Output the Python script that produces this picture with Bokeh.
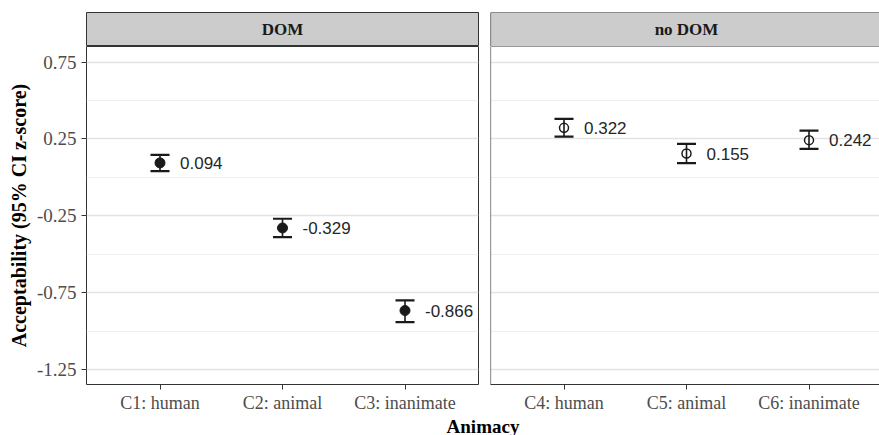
from bokeh.plotting import figure
from bokeh.models import ColumnDataSource, Whisker, TeeHead, FixedTicker, Range1d, Label, Span
from bokeh.layouts import column, row
from bokeh.core.properties import value
from bokeh.embed import file_html
from bokeh.resources import INLINE

# ---------------- data ----------------
panels = ["DOM", "no DOM"]
cats_dom = ["C1: human", "C2: animal", "C3: inanimate"]
cats_nodom = ["C4: human", "C5: animal", "C6: inanimate"]
mean_dom = [0.094, -0.329, -0.866]
lower_dom = [0.040, -0.389, -0.941]
upper_dom = [0.146, -0.269, -0.800]
mean_nodom = [0.322, 0.155, 0.242]
lower_nodom = [0.265, 0.092, 0.185]
upper_nodom = [0.380, 0.218, 0.304]
y_ticks = [-1.25, -0.75, -0.25, 0.25, 0.75]
y_tick_labels = ["-1.25", "-0.75", "-0.25", "0.25", "0.75"]
y_minor = [-1.0, -0.5, 0.0, 0.5]
x_title = "Animacy"
y_title = "Acceptability (95% CI z-score)"

# ---------------- style ----------------
SERIF = "Liberation Serif"
SANS = "Liberation Sans"
BORDER = "#333333"
INK = "#1A1A1A"
STRIP = "#CCCCCC"
PX_PER_CAT = 122.5
Y0, Y1 = -1.347, 0.851
LEFT_B = 86
GAP = 6
FW_L = 392
FW_R = 389
FH = 338
BOTTOM_B = 30


def xr(fw):
    return Range1d(0.4, 0.4 + fw / PX_PER_CAT)


def make_strip(text, fw, left, right, outline):
    s = figure(frame_width=fw, frame_height=34, x_range=xr(fw), y_range=Range1d(0, 1),
               x_axis_location=None, y_axis_location=None,
               min_border_left=left, min_border_right=right,
               min_border_top=12, min_border_bottom=0,
               background_fill_color=STRIP, border_fill_color="white",
               output_backend="svg", toolbar_location=None)
    s.grid.visible = False
    s.outline_line_color = BORDER if outline else None
    if not outline:
        for loc in (0, 1):
            s.add_layout(Span(location=loc, dimension="width", line_color=BORDER, line_width=1.2))
        s.add_layout(Span(location=0.4, dimension="height", line_color=BORDER, line_width=1.2))
    s.add_layout(Label(x=2, y=0.5, text=text, text_align="center", text_baseline="middle",
                       text_font=SERIF, text_font_style="bold", text_font_size="17px",
                       text_color=INK))
    return s


def make_panel(cats, mean, lower, upper, filled, fw, left, right, show_y):
    p = figure(frame_width=fw, frame_height=FH, x_range=xr(fw), y_range=Range1d(Y0, Y1),
               y_axis_location="left" if show_y else None,
               min_border_left=left, min_border_right=right,
               min_border_top=0, min_border_bottom=BOTTOM_B,
               background_fill_color="white", border_fill_color="white",
               output_backend="svg", toolbar_location=None)
    xs = list(range(1, len(cats) + 1))
    src = ColumnDataSource(dict(x=xs, mean=mean, lower=lower, upper=upper,
                                label=[f"{v:.3f}" for v in mean]))
    # grid
    p.xgrid.visible = False
    p.ygrid.ticker = FixedTicker(ticks=y_ticks, minor_ticks=y_minor)
    p.ygrid.grid_line_color = "#E3E3E3"
    p.ygrid.grid_line_width = 1.4
    p.ygrid.minor_grid_line_color = "#EEEEEE"
    p.ygrid.minor_grid_line_width = 1
    # x axis
    p.xaxis.ticker = FixedTicker(ticks=xs)
    p.xaxis.major_label_overrides = {x: c for x, c in zip(xs, cats)}
    p.xaxis.major_label_text_font = SERIF
    p.xaxis.major_label_text_font_size = "18px"
    p.xaxis.major_label_text_color = "#4D4D4D"
    p.xaxis.major_label_standoff = 3
    p.xaxis.major_tick_out = 5
    p.xaxis.major_tick_in = 0
    p.xaxis.major_tick_line_color = BORDER
    p.xaxis.minor_tick_line_color = None
    if show_y:
        p.outline_line_color = BORDER
        p.xaxis.axis_line_color = None
        p.yaxis.ticker = FixedTicker(ticks=y_ticks, minor_ticks=y_minor)
        p.yaxis.major_label_overrides = {t: l for t, l in zip(y_ticks, y_tick_labels)}
        p.yaxis.major_label_text_font = SERIF
        p.yaxis.major_label_text_font_size = "19px"
        p.yaxis.major_label_text_color = "#4D4D4D"
        p.yaxis.major_label_standoff = 5
        p.yaxis.major_tick_out = 5
        p.yaxis.major_tick_in = 0
        p.yaxis.major_tick_line_color = BORDER
        p.yaxis.minor_tick_line_color = None
        p.yaxis.axis_line_color = None
        p.yaxis.axis_label = y_title
        p.yaxis.axis_label_text_font = SERIF
        p.yaxis.axis_label_text_font_style = "bold"
        p.yaxis.axis_label_text_font_size = "20px"
        p.yaxis.axis_label_text_color = "black"
        p.yaxis.axis_label_standoff = 4
    else:
        p.outline_line_color = None
        p.xaxis.axis_line_color = BORDER
        p.xaxis.axis_line_width = 1.2
        p.add_layout(Span(location=Y1, dimension="width", line_color=BORDER, line_width=1.2))
        p.add_layout(Span(location=0.4, dimension="height", line_color=BORDER, line_width=1.2))
    # error bars
    w = Whisker(source=src, base="x", upper="upper", lower="lower", dimension="height",
                line_color=INK, line_width=1.6,
                upper_head=TeeHead(size=19, line_color=INK, line_width=2.2),
                lower_head=TeeHead(size=19, line_color=INK, line_width=2.2))
    p.add_layout(w)
    # points
    if filled:
        p.scatter("x", "mean", source=src, size=10, fill_color=INK, line_color=INK)
    else:
        p.scatter("x", "mean", source=src, size=9, fill_color=None, line_color=INK,
                  line_width=1.5)
    # value labels
    p.text("x", "mean", text="label", source=src, x_offset=20, text_align="left",
           text_baseline="middle", text_font=value(SANS), text_font_size="17px",
           text_color="#262626")
    return p


s1 = make_strip(panels[0], FW_L, LEFT_B, GAP, True)
s2 = make_strip(panels[1], FW_R, GAP, 0, False)
p1 = make_panel(cats_dom, mean_dom, lower_dom, upper_dom, True, FW_L, LEFT_B, GAP, True)
p2 = make_panel(cats_nodom, mean_nodom, lower_nodom, upper_nodom, False, FW_R, GAP, 0, False)

t = figure(frame_width=FW_L + 2 * GAP + FW_R, frame_height=435 - 46 - FH - BOTTOM_B,
           x_range=Range1d(0, 1), y_range=Range1d(0, 1),
           x_axis_location=None, y_axis_location=None,
           min_border_left=LEFT_B, min_border_right=0, min_border_top=0, min_border_bottom=0,
           outline_line_color=None, output_backend="svg", toolbar_location=None)
t.grid.visible = False
t.add_layout(Label(x=0.5, y=0.5, text=x_title, text_align="center", text_baseline="middle",
                   text_font=SERIF, text_font_style="bold", text_font_size="19px",
                   text_color="black"))

layout = column(row(s1, s2), row(p1, p2), t)
open("out.html", "w").write(file_html(layout, INLINE))
